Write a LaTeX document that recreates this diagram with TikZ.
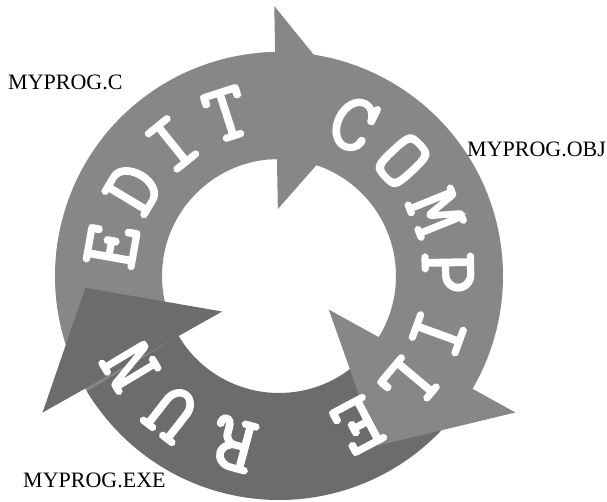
\documentclass[tikz,border=0pt]{standalone}
\usepackage{fontspec}
\setmainfont{Liberation Serif}
\newfontfamily\ringfont[FakeBold=3]{Latin Modern Mono}
\definecolor{ringgray}{RGB}{135,135,135}
\definecolor{rungray}{RGB}{108,108,108}

\begin{document}
\begin{tikzpicture}[x=1pt, y=1pt,
  ringletter/.style={white, inner sep=0pt, font=\ringfont\fontsize{82}{82}\selectfont},
  filelabel/.style={black, anchor=base west, inner sep=0pt, font=\fontsize{22}{22}\selectfont}]

  \fill[white] (0,0) rectangle (607,501);
  \useasboundingbox (0,0) rectangle (607,501);

  \begin{scope}[shift={(279,225)}]
    % BAND 1: EDIT
    \fill[ringgray] (215:224) arc[start angle=215, end angle=91, radius=224]
      -- (91:117) arc[start angle=91, end angle=215, radius=117] -- cycle;

    % BAND 2: COMPILE
    \fill[ringgray] (95:224) arc[start angle=95, end angle=-33, radius=224]
      -- (-33:117) arc[start angle=-33, end angle=95, radius=117] -- cycle;

    % BAND 3: RUN
    \fill[rungray] (-36:224) arc[start angle=-36, end angle=-149, radius=224]
      -- (-149:117) arc[start angle=-149, end angle=-36, radius=117] -- cycle;

    % ARROW HEADS
    \fill[ringgray] (91:270) -- (63:182) -- (91:67) -- cycle;
    \fill[ringgray] (-30:273) -- (-60:196) -- (-34:60) -- cycle;
    \fill[rungray] (-150:273) -- (-176.5:194) -- (-148:67) -- cycle;

    % LETTERS
    \foreach \ch/\ang in {E/170, D/149, I/129, T/108}
      \node[ringletter, rotate=\ang-90] (edit-\ch) at (\ang:170) {\ch};
    \foreach \ch/\ang in {C/64, O/43, M/22, P/1, I/-20, L/-40, E/-62}
      \node[ringletter, rotate=\ang-90] (compile-\ch) at (\ang:169) {\ch};
    \foreach \ch/\ang in {R/-105, U/-128, N/-149}
      \node[ringletter, rotate=\ang-90] (run-\ch) at (\ang:174) {\ch};
  \end{scope}

  % FILES
  \node[filelabel] (srcfile) at (8,411) {MYPROG.C};
  \node[filelabel] (objfile) at (467,344) {MYPROG.OBJ};
  \node[filelabel] (exefile) at (23,14) {MYPROG.EXE};

\end{tikzpicture}
\end{document}
